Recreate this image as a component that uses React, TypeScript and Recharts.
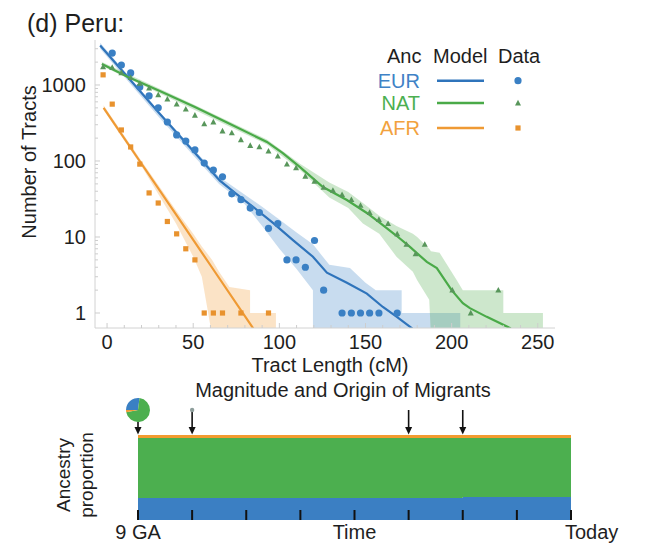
import React from 'react';
import { ComposedChart, AreaChart, Area, Line, Scatter, XAxis, YAxis, Legend } from 'recharts';

const FONT = '"Liberation Sans", Arial, Helvetica, sans-serif';
const TEXT = '#1e1e1e';

const EUR_LINE = '#2f74bb';
const EUR_DOT = '#3a80c4';
const NAT_LINE = '#4aaa48';
const NAT_DOT = '#58965b';
const AFR_LINE = '#ef9a34';
const AFR_DOT = '#e8922e';

// ---- Tract length histogram (cM bins) ----
const binCenters = [-2.3, 3.0, 8.3, 13.7, 19.0, 24.4, 29.7, 35.0, 40.4, 45.7, 51.0, 56.4, 61.7, 67.0, 72.4, 77.7, 83.1, 88.4, 93.7, 99.1, 104.4, 109.7, 115.1, 120.4, 125.7, 131.1, 136.4, 141.8, 147.1, 152.4, 157.8, 163.1, 168.4, 173.8, 179.1, 184.4, 189.8, 195.1, 200.4, 205.8, 211.1, 216.4, 221.8, 227.1];
const eurCounts = [null, 2630, 1830, 1440, 940, 720, 500, 326, 220, 183, 140, 94, 76, 62, 37, 31, 24, 21, 13, 15, 5, 5, 4, 9, 2, null, 1, 1, 1, 1, 1, null, 1, null, null, null, null, null, null, null, null, null, null, null];
const natCounts = [1730, 1700, 1450, 1250, 1050, 910, 740, 650, 560, 480, 400, 307, 326, 248, 234, 190, 160, 153, 135, 116, 91, 81, 63, 54, 45, 41, 36, 31, 26, 21, 17, 15, 11, 8, 6, 8, null, null, 2, null, 1, null, null, 2];
const afrCounts = [1360, 560, 256, 153, 91, 38, 28, 16, 11, 7, 5, 1, 1, 1, null, 1, null, null, 1, null, null, null, null, null, null, null, null, null, null, null, null, null, null, null, null, null, null, null, null, null, null, null, null, null];

// ---- Model predictions ----
const eurModelX = [-4, 30.7, 65.5, 75, 84.7, 96.3, 107.9, 119.5, 127.6, 139.2, 150.8, 160.1, 168.2, 177, 181];
const eurModelY = [3300, 415, 55, 37, 25, 15.3, 9.1, 5.5, 3.4, 2.5, 1.8, 1.2, 0.89, 0.63, 0.5];
const natModelX = [-3, 12.2, 31.9, 51, 70.2, 92.8, 102, 112, 125.3, 139.2, 150.8, 158.4, 168.2, 175.8, 185.6, 191.4, 200, 206.5, 210.6, 220.4, 233.8, 237];
const natModelY = [1890, 1270, 810, 513, 316, 178, 127, 83, 45.5, 30.7, 20.7, 15.3, 10.3, 7.4, 4.7, 3.9, 2.0, 1.35, 1.16, 0.89, 0.635, 0.55];
const afrModelX = [-2, 20, 40, 60, 85, 88];
const afrModelY = [500, 92, 19.8, 4.25, 0.62, 0.5];

// ---- Model confidence bands ----
const eurBandX = [-4, 30, 65, 80, 90, 100, 110, 119.5, 119.5, 129, 141, 150, 156, 171, 171, 205, 205];
const eurBandLo = [3000, 380, 50, 27, 14, 7, 3.8, 2, 0.5, 0.5, 0.5, 0.5, 0.5, 0.5, 0.5, 0.5, 0.5];
const eurBandHi = [3600, 450, 62, 36, 25, 17, 11.5, 8, 8, 4.3, 3.9, 2.5, 2, 2, 1, 1, 0.5];
const natBandX = [-3, 50, 92.8, 112, 129, 140, 148.5, 158, 168, 177.5, 180, 187, 188, 193, 203, 206.5, 230, 230, 253, 253];
const natBandLo = [1780, 480, 165, 76, 33, 24, 15, 11, 5.5, 3.5, 2.7, 1.5, 0.5, 0.5, 0.5, 0.5, 0.5, 0.5, 0.5, 0.5];
const natBandHi = [2000, 560, 192, 92, 52, 39, 28, 19, 14, 11, 10, 7, 6.5, 6.2, 2.7, 2, 2, 1, 1, 0.5];
const afrBandX = [-2, 20, 40, 50, 55, 61, 65, 71, 83, 83, 98, 98];
const afrBandLo = [470, 85, 15, 5.5, 3, 0.5, 0.5, 0.5, 0.5, 0.5, 0.5, 0.5];
const afrBandHi = [540, 100, 22.5, 11, 7.5, 5, 3.5, 2.2, 2, 1, 1, 0.5];

// ---- Axes ----
const xMajorTicks = [0, 50, 100, 150, 200, 250];
const xMinorTicks = [10, 20, 30, 40, 60, 70, 80, 90, 110, 120, 130, 140, 160, 170, 180, 190, 210, 220, 230, 240];
const yMajorTicks = [1, 10, 100, 1000];
const yMinorTicks = [2, 3, 4, 5, 6, 7, 8, 9, 20, 30, 40, 50, 60, 70, 80, 90, 200, 300, 400, 500, 600, 700, 800, 900, 2000, 3000];

// ---- Legend ----
const ancestries = ['EUR', 'NAT', 'AFR'];
const ancLineColors = [EUR_LINE, NAT_LINE, AFR_LINE];
const ancTextColors = ['#3f82c6', '#4caf50', '#f2a23e'];
const ancMarkers = ['circle', 'triangle', 'square'];

// ---- Timeline (ancestry proportions over generations) ----
const timeSteps = [0, 1, 2, 3, 4, 5, 6, 7, 8];
const timeLabels = ['9 GA', '', '', '', 'Time', '', '', '', 'Today'];
const eurShare = [0.26, 0.26, 0.26, 0.26, 0.26, 0.26, 0.27, 0.27, 0.27];
const natShare = [0.705, 0.705, 0.705, 0.705, 0.705, 0.705, 0.695, 0.695, 0.695];
const afrShare = [0.035, 0.035, 0.035, 0.035, 0.035, 0.035, 0.035, 0.035, 0.035];
const migrantTimes = [0, 1, 5, 6];
const migrantMagnitude = [1, 0.03, 0, 0];
const migrantEur = [0.27, 0.3, 0, 0];
const migrantNat = [0.7, 0.6, 0, 0];
const migrantAfr = [0.03, 0.1, 0, 0];

type Pt = { x: number; y: number };
const zipPoints = (xs: number[], ys: (number | null)[]): Pt[] =>
  xs.map((x, i) => ({ x, y: ys[i] as number })).filter((p) => p.y !== null && p.y !== undefined);
const zipBand = (xs: number[], lo: number[], hi: number[]) => xs.map((x, i) => ({ x, lo: lo[i], hi: hi[i] }));

const eurPoints = zipPoints(binCenters, eurCounts);
const natPoints = zipPoints(binCenters, natCounts);
const afrPoints = zipPoints(binCenters, afrCounts);
const eurModel = zipPoints(eurModelX, eurModelY);
const natModel = zipPoints(natModelX, natModelY);
const afrModel = zipPoints(afrModelX, afrModelY);
const eurBand = zipBand(eurBandX, eurBandLo, eurBandHi);
const natBand = zipBand(natBandX, natBandLo, natBandHi);
const afrBand = zipBand(afrBandX, afrBandLo, afrBandHi);

const stripData = timeSteps.map((t, i) => ({ t, eur: eurShare[i], nat: natShare[i], afr: afrShare[i] }));
const migrants = migrantTimes.map((t, i) => ({
  t,
  y: 1,
  mag: migrantMagnitude[i],
  eur: migrantEur[i],
  nat: migrantNat[i],
  afr: migrantAfr[i],
}));

const bandKey = (d: any) => [d.lo, d.hi];

const XTick = (props: any) => {
  const { x, y, payload } = props;
  const major = xMajorTicks.includes(payload.value);
  return (
    <g>
      <line x1={x} x2={x} y1={y} y2={y - (major ? 5 : 3)} stroke="#cdcdcd" />
      {major && (
        <text x={x} y={y + 21} textAnchor="middle" fontSize={20} fill={TEXT} fontFamily={FONT}>
          {payload.value}
        </text>
      )}
    </g>
  );
};

const YTick = (props: any) => {
  const { x, y, payload } = props;
  const major = yMajorTicks.includes(payload.value);
  return (
    <g>
      <line x1={x} x2={x + (major ? 5 : 3)} y1={y} y2={y} stroke="#cdcdcd" />
      {major && (
        <text x={x - 9} y={y} dy="0.36em" textAnchor="end" fontSize={20} fill={TEXT} fontFamily={FONT}>
          {payload.value}
        </text>
      )}
    </g>
  );
};

const Marker = ({ kind, cx, cy, color }: { kind: string; cx: number; cy: number; color: string }) => {
  if (kind === 'circle') return <circle cx={cx} cy={cy} r={3.6} fill={color} />;
  if (kind === 'triangle')
    return <polygon points={`${cx},${cy - 3.2} ${cx - 3},${cy + 2.4} ${cx + 3},${cy + 2.4}`} fill={color} />;
  return <rect x={cx - 2.6} y={cy - 2.6} width={5.2} height={5.2} fill={color} />;
};

const dotShape = (kind: string, color: string) => (p: any) => <Marker kind={kind} cx={p.cx} cy={p.cy} color={color} />;

const markerColors = [EUR_DOT, NAT_DOT, AFR_DOT];

const LegendBox = () => (
  <svg width={200} height={110} style={{ overflow: 'visible' }}>
    <g fontFamily={FONT} fontSize={20}>
      <text x={7} y={33} fill={TEXT}>Anc</text>
      <text x={53} y={33} fill={TEXT}>Model</text>
      <text x={118} y={33} fill={TEXT}>Data</text>
      {ancestries.map((a, i) => {
        const cy = [50.7, 73, 98][i];
        return (
          <g key={a}>
            <text x={40} y={cy + 7} textAnchor="end" fill={ancTextColors[i]}>{a}</text>
            <line x1={57} x2={104} y1={cy} y2={cy} stroke={ancLineColors[i]} strokeWidth={2.6} />
            <Marker kind={ancMarkers[i]} cx={138} cy={cy} color={markerColors[i]} />
          </g>
        );
      })}
    </g>
  </svg>
);

const TractChart = () => (
  <ComposedChart width={651} height={378} margin={{ top: 40, right: 96, bottom: 0, left: 0 }}>
    <XAxis
      type="number"
      dataKey="x"
      domain={[-7, 260]}
      allowDataOverflow
      ticks={[...xMajorTicks, ...xMinorTicks].sort((a, b) => a - b)}
      interval={0}
      tick={<XTick />}
      tickLine={false}
      tickSize={0}
      tickMargin={0}
      axisLine={{ stroke: '#d2d2d2' }}
      height={50}
      label={{ value: 'Tract Length (cM)', position: 'insideBottom', offset: 6, dx: 5, fontSize: 20, fill: TEXT, style: { fontFamily: FONT, fontSize: 20 } }}
    />
    <YAxis
      type="number"
      dataKey="y"
      scale="log"
      domain={[0.635, 3908]}
      allowDataOverflow
      ticks={[...yMajorTicks, ...yMinorTicks].sort((a, b) => a - b)}
      interval={0}
      tick={<YTick />}
      tickLine={false}
      tickSize={0}
      tickMargin={0}
      axisLine={{ stroke: '#d2d2d2' }}
      width={95}
    />
    <Area data={afrBand} dataKey={bandKey} type="linear" stroke="none" fill={AFR_LINE} fillOpacity={0.28} isAnimationActive={false} />
    <Area data={eurBand} dataKey={bandKey} type="linear" stroke="none" fill={EUR_DOT} fillOpacity={0.28} isAnimationActive={false} />
    <Area data={natBand} dataKey={bandKey} type="linear" stroke="none" fill={NAT_LINE} fillOpacity={0.28} isAnimationActive={false} />
    <Scatter data={afrPoints} shape={dotShape('square', AFR_DOT)} isAnimationActive={false} />
    <Scatter data={eurPoints} shape={dotShape('circle', EUR_DOT)} isAnimationActive={false} />
    <Scatter data={natPoints} shape={dotShape('triangle', NAT_DOT)} isAnimationActive={false} />
    <Line data={afrModel} dataKey="y" type="linear" stroke={AFR_LINE} strokeWidth={2.2} dot={false} isAnimationActive={false} />
    <Line data={eurModel} dataKey="y" type="linear" stroke={EUR_LINE} strokeWidth={2.2} dot={false} isAnimationActive={false} />
    <Line data={natModel} dataKey="y" type="linear" stroke={NAT_LINE} strokeWidth={2.2} dot={false} isAnimationActive={false} />
    <Legend
      layout="vertical"
      align="center"
      verticalAlign="middle"
      wrapperStyle={{ position: 'absolute', left: 380, top: 30, width: 200, height: 110 }}
      content={() => <LegendBox />}
    />
  </ComposedChart>
);

const TimeTick = (props: any) => {
  const { x, y, payload } = props;
  const label = timeLabels[timeSteps.indexOf(payload.value)];
  const last = payload.value === timeSteps[timeSteps.length - 1];
  return (
    <g>
      <line x1={x} x2={x} y1={y - 10} y2={y} stroke="#111" strokeWidth={2} />
      {label && (
        <text x={last ? x - 6 : x} y={y + 19} textAnchor={last ? 'start' : 'middle'} fontSize={20} fill={TEXT} fontFamily={FONT}>
          {label}
        </text>
      )}
    </g>
  );
};

const arcPoint = (cx: number, cy: number, r: number, deg: number) => {
  const a = (deg * Math.PI) / 180;
  return [cx + r * Math.cos(a), cy + r * Math.sin(a)];
};
const slicePath = (cx: number, cy: number, r: number, a0: number, a1: number) => {
  const [x0, y0] = arcPoint(cx, cy, r, a0);
  const [x1, y1] = arcPoint(cx, cy, r, a1);
  const large = a1 - a0 > 180 ? 1 : 0;
  return `M${cx},${cy} L${x0},${y0} A${r},${r} 0 ${large} 1 ${x1},${y1} Z`;
};

const MigrantShape = (props: any) => {
  const { cx, cy, payload } = props;
  const r = 12 * Math.sqrt(payload.mag);
  const top = cy - 25;
  const shares = [payload.eur, payload.nat, payload.afr];
  const cols = [EUR_DOT, '#4caf4f', AFR_LINE];
  let start = 180;
  return (
    <g>
      <line x1={cx} x2={cx} y1={r > 3 ? top + r : top} y2={cy - 5} stroke="#111" strokeWidth={1.6} />
      <polygon points={`${cx},${cy - 0.5} ${cx - 3.5},${cy - 8} ${cx + 3.5},${cy - 8}`} fill="#111" />
      {r > 3 &&
        shares.map((s, i) => {
          const a0 = start;
          const a1 = start + s * 360;
          start = a1;
          return <path key={i} d={slicePath(cx, top, r, a0, a1)} fill={cols[i]} />;
        })}
      {r > 0 && r <= 3 && <circle cx={cx} cy={top} r={2.2} fill="#8e9e9c" />}
    </g>
  );
};

const TimelineChart = () => (
  <AreaChart width={651} height={150} data={stripData} margin={{ top: 40, right: 80, bottom: 0, left: 138 }}>
    <XAxis
      type="number"
      dataKey="t"
      domain={[0, 8]}
      ticks={timeSteps}
      interval={0}
      tick={<TimeTick />}
      tickLine={false}
      tickSize={0}
      tickMargin={0}
      axisLine={false}
      height={25}
    />
    <YAxis type="number" dataKey="y" domain={[0, 1]} hide />
    <Area dataKey="eur" stackId="s" type="stepAfter" stroke="none" fill="#3b7fc3" fillOpacity={1} isAnimationActive={false} />
    <Area dataKey="nat" stackId="s" type="stepAfter" stroke="none" fill="#4caf4f" fillOpacity={1} isAnimationActive={false} />
    <Area dataKey="afr" stackId="s" type="stepAfter" stroke="none" fill="#f39b2f" fillOpacity={1} isAnimationActive={false} />
    <Scatter data={migrants} shape={MigrantShape} isAnimationActive={false} />
  </AreaChart>
);

export default function App() {
  return (
    <div style={{ position: 'absolute', left: 0, top: 0, width: 651, height: 550, background: '#fff', fontFamily: FONT }}>
      <div style={{ position: 'absolute', left: 0, top: 0 }}>
        <TractChart />
      </div>
      <div style={{ position: 'absolute', left: 0, top: 395 }}>
        <TimelineChart />
      </div>
      <svg width={651} height={550} style={{ position: 'absolute', left: 0, top: 0, pointerEvents: 'none' }}>
        <g fontFamily={FONT} fill={TEXT}>
          <text x={27} y={32} fontSize={25}>(d) Peru:</text>
          <text transform="translate(29,162) rotate(-90)" textAnchor="middle" dy="0.36em" fontSize={20}>Number of Tracts</text>
          <text x={343} y={397} textAnchor="middle" fontSize={20}>Magnitude and Origin of Migrants</text>
          <text transform="translate(63,475) rotate(-90)" textAnchor="middle" dy="0.36em" fontSize={19}>Ancestry</text>
          <text transform="translate(86,475) rotate(-90)" textAnchor="middle" dy="0.36em" fontSize={19}>proportion</text>
        </g>
      </svg>
    </div>
  );
}
